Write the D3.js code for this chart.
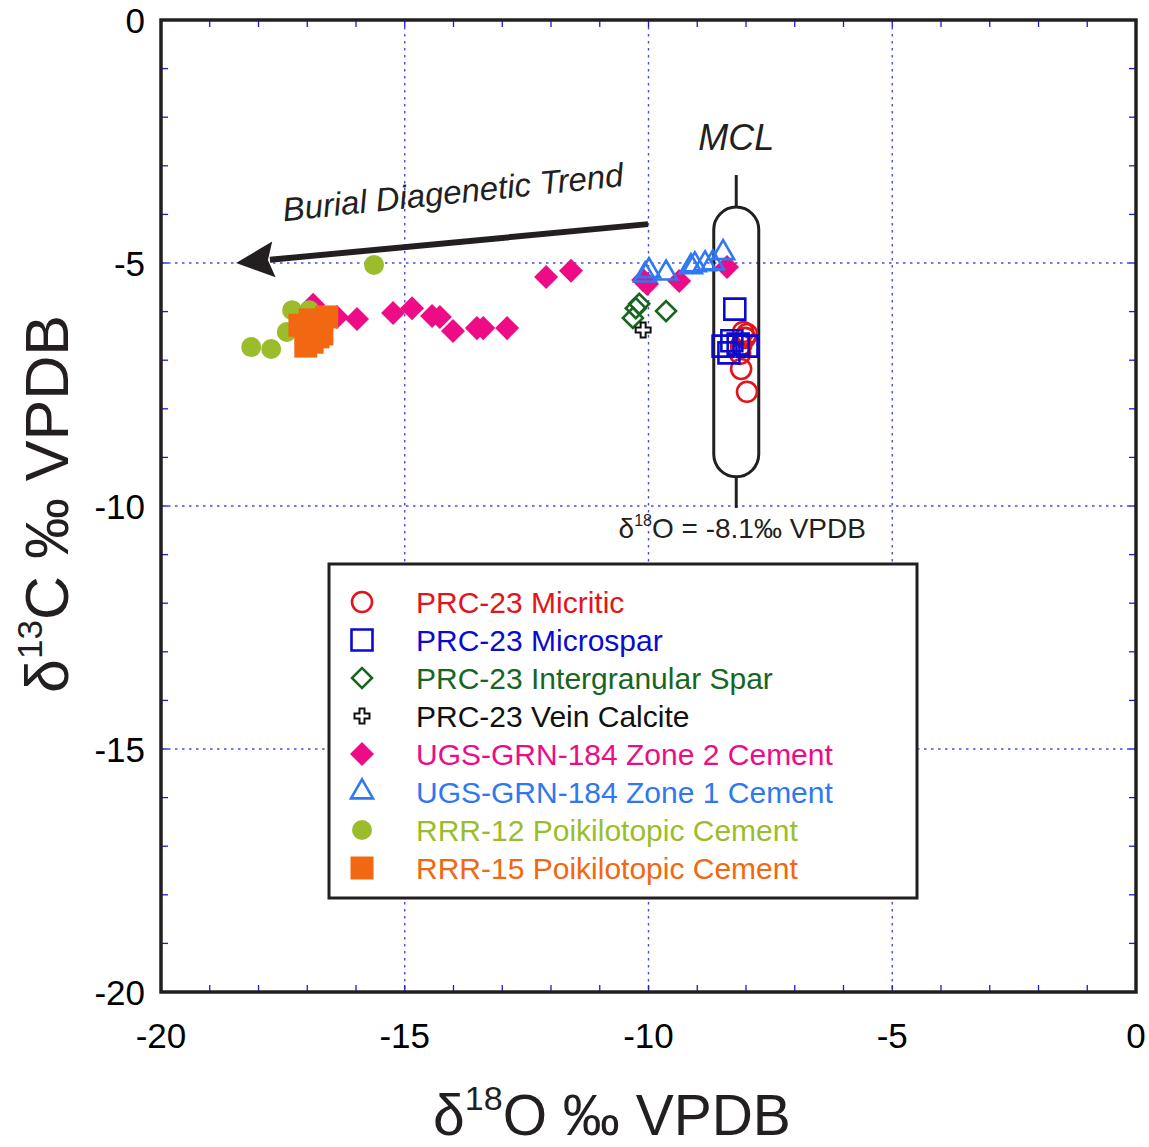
<!DOCTYPE html>
<html>
<head>
<meta charset="utf-8">
<script src="https://cdn.jsdelivr.net/npm/d3@7"></script>
<style>
  body { margin: 0; background: #fff; }
  svg text { font-family: "Liberation Sans", Arial, sans-serif; }
</style>
</head>
<body>
<div id="chart"></div>
<script>
// data: [d18O, d13C]
var micritic = [[-8.06, -6.42], [-7.98, -6.46], [-8.02, -6.54], [-8.10, -6.69], [-8.12, -6.87], [-8.10, -7.18], [-7.98, -7.65]];
var microspar = [[-8.23, -5.95], [-8.29, -6.60], [-8.47, -6.71], [-8.35, -6.85], [-7.98, -6.71], [-8.16, -6.67]];
var intergranular = [[-10.19, -5.84], [-10.26, -5.93], [-10.32, -6.13], [-9.64, -5.99]];
var vein = [[-10.11, -6.38]];
var zone2 = [[-16.88, -5.86], [-16.39, -6.11], [-15.98, -6.15], [-15.24, -6.03], [-14.85, -5.93], [-14.44, -6.09],
  [-14.28, -6.11], [-14.01, -6.40], [-13.52, -6.34], [-13.39, -6.34], [-12.90, -6.34], [-12.10, -5.29],
  [-11.59, -5.16], [-10.11, -5.35], [-10.03, -5.43], [-9.37, -5.37], [-8.39, -5.08]];
var zone1 = [[-10.07, -5.25], [-9.99, -5.16], [-9.64, -5.21], [-9.13, -5.08], [-9.05, -5.04], [-8.84, -5.02], [-8.68, -5.00], [-8.47, -4.79]];
var rrr12 = [[-15.63, -5.04], [-18.15, -6.73], [-17.74, -6.77], [-17.31, -5.97], [-16.96, -5.97], [-17.42, -6.42]];
var rrr15 = [[-17.15, -6.28], [-16.60, -6.11], [-16.70, -6.46], [-16.78, -6.52], [-16.90, -6.63], [-17.03, -6.71], [-16.94, -6.17]];

var seriesNames = ["PRC-23 Micritic", "PRC-23 Microspar", "PRC-23 Intergranular Spar", "PRC-23 Vein Calcite",
  "UGS-GRN-184 Zone 2 Cement", "UGS-GRN-184 Zone 1 Cement", "RRR-12 Poikilotopic Cement", "RRR-15 Poikilotopic Cement"];
var seriesData = [micritic, microspar, intergranular, vein, zone2, zone1, rrr12, rrr15];

var xTicks = [-20, -15, -10, -5, 0];
var yTicks = [0, -5, -10, -15, -20];
var gridValues = [-15, -10, -5];

// MCL capsule (d18O centre, d13C top/bottom of body and whiskers)
var mclX = -8.2;
var mclBody = [-3.85, -9.40];
var mclWhisker = [-3.19, -10.04];
// burial trend arrow, from -> to
var trendArrow = [[-10.01, -4.20], [-18.46, -5.0]];

// styles per series (same order as seriesNames)
var styles = [
  {type: "circle", color: "#e3141b", fill: false, size: 10},
  {type: "square", color: "#0b0bd0", fill: false, size: 21},
  {type: "diamond", color: "#17661f", fill: false, size: 20},
  {type: "cross", color: "#111", fill: false, size: 15},
  {type: "diamond", color: "#ee0c86", fill: true, size: 24},
  {type: "triangle", color: "#2f78f2", fill: false, size: 22},
  {type: "circle", color: "#9bbd2c", fill: true, size: 10},
  {type: "square", color: "#f26711", fill: true, size: 23}
];
var drawOrder = [4, 0, 1, 2, 3, 5, 6, 7];

var W = 1149, H = 1147;
var margin = {top: 20, right: 13, bottom: 155, left: 161},
  width = W - margin.left - margin.right,
  height = H - margin.top - margin.bottom;

var x = d3.scaleLinear().domain([-20, 0]).range([0, width]);
var y = d3.scaleLinear().domain([-20, 0]).range([height, 0]);

var svg = d3.select("#chart").append("svg")
  .attr("width", W).attr("height", H);
var g = svg.append("g")
  .attr("transform", `translate(${margin.left}, ${margin.top})`);

// dotted grid
var gridColor = "#4a4ae8";
g.selectAll("line.gx").data(gridValues).enter().append("line")
  .attr("x1", d => x(d)).attr("x2", d => x(d))
  .attr("y1", 0).attr("y2", height)
  .attr("stroke", gridColor).attr("stroke-width", 1.4).attr("stroke-dasharray", "2.5,4.5");
g.selectAll("line.gy").data(gridValues).enter().append("line")
  .attr("y1", d => y(d)).attr("y2", d => y(d))
  .attr("x1", 0).attr("x2", width)
  .attr("stroke", gridColor).attr("stroke-width", 1.4).attr("stroke-dasharray", "2.5,4.5");

// minor ticks inside on all four sides
var minor = d3.range(-19, 0, 1);
var tk = 7, tickColor = "#1a1ae6";
[["x", 0, 1], ["x", height, -1], ["y", 0, 1], ["y", width, -1]].forEach(function(s) {
  g.selectAll(null).data(minor).enter().append("line")
    .attr("x1", d => s[0] == "x" ? x(d) : s[1])
    .attr("x2", d => s[0] == "x" ? x(d) : s[1] + s[2] * tk)
    .attr("y1", d => s[0] == "x" ? s[1] : y(d))
    .attr("y2", d => s[0] == "x" ? s[1] + s[2] * tk : y(d))
    .attr("stroke", tickColor).attr("stroke-width", 1.3);
});

// tick labels
g.selectAll("text.xl").data(xTicks).enter().append("text")
  .attr("x", d => x(d)).attr("y", height + 56)
  .attr("text-anchor", "middle").attr("font-size", 35)
  .text(d => d);
g.selectAll("text.yl").data(yTicks).enter().append("text")
  .attr("x", -16).attr("y", d => y(d)).attr("dy", "0.36em")
  .attr("text-anchor", "end").attr("font-size", 35)
  .text(d => d);

// MCL capsule
var capW = 45;
g.append("line")
  .attr("x1", x(mclX)).attr("x2", x(mclX))
  .attr("y1", y(mclWhisker[0])).attr("y2", y(mclBody[0]))
  .attr("stroke", "#231f20").attr("stroke-width", 3);
g.append("line")
  .attr("x1", x(mclX)).attr("x2", x(mclX))
  .attr("y1", y(mclBody[1])).attr("y2", y(mclWhisker[1]))
  .attr("stroke", "#231f20").attr("stroke-width", 3);
g.append("rect")
  .attr("x", x(mclX) - capW / 2).attr("width", capW)
  .attr("y", y(mclBody[0])).attr("height", y(mclBody[1]) - y(mclBody[0]))
  .attr("rx", capW / 2).attr("ry", capW / 2)
  .attr("fill", "none").attr("stroke", "#231f20").attr("stroke-width", 3);
g.append("text")
  .attr("x", x(mclX)).attr("y", y(mclWhisker[0]) - 25)
  .attr("text-anchor", "middle").attr("font-size", 36).attr("font-style", "italic")
  .attr("fill", "#231f20").text("MCL");
var mclLab = g.append("text")
  .attr("x", x(mclX) + 6).attr("y", y(mclWhisker[1]) + 30)
  .attr("text-anchor", "middle").attr("font-size", 28).attr("fill", "#231f20");
mclLab.append("tspan").text("δ");
mclLab.append("tspan").attr("font-size", 16).attr("dy", -12).text("18");
mclLab.append("tspan").attr("dy", 12).text("O = -8.1‰ VPDB");

// burial trend arrow
var ax0 = x(trendArrow[0][0]), ay0 = y(trendArrow[0][1]),
  ax1 = x(trendArrow[1][0]), ay1 = y(trendArrow[1][1]);
var ang = Math.atan2(ay1 - ay0, ax1 - ax0);
var headL = 38, headW = 18;
var bx = ax1 - headL * Math.cos(ang), by = ay1 - headL * Math.sin(ang);
g.append("line")
  .attr("x1", ax0).attr("y1", ay0).attr("x2", bx + 4 * Math.cos(ang)).attr("y2", by + 4 * Math.sin(ang))
  .attr("stroke", "#231f20").attr("stroke-width", 6);
g.append("path")
  .attr("d", d3.line()([
    [ax1, ay1],
    [bx + headW * Math.sin(ang), by - headW * Math.cos(ang)],
    [bx + 6 * Math.cos(ang), by + 6 * Math.sin(ang)],
    [bx - headW * Math.sin(ang), by + headW * Math.cos(ang)]
  ]) + "Z")
  .attr("fill", "#231f20");
g.append("text")
  .attr("transform", `translate(${(ax0 + ax1) / 2 + 12}, ${(ay0 + ay1) / 2 - 40}) rotate(${ang * 180 / Math.PI + 180 - 0.5})`)
  .attr("text-anchor", "middle").attr("font-size", 33).attr("font-style", "italic")
  .attr("fill", "#231f20").text("Burial Diagenetic Trend");

// symbol paths
function symbolPath(st) {
  var s = st.size;
  if (st.type == "circle") return d3.symbol(d3.symbolCircle, Math.PI * s * s)();
  if (st.type == "square") return d3.symbol(d3.symbolSquare, s * s)();
  if (st.type == "diamond") { var a = s / Math.SQRT2; return d3.symbol(d3.symbolSquare, a * a)(); }
  if (st.type == "triangle") { return d3.symbol(d3.symbolTriangle, s * s * Math.sqrt(3) / 4)(); }
  if (st.type == "cross") { var r = s / 6; return d3.symbol(d3.symbolCross, 20 * r * r)(); }
}
function styleMark(sel, st) {
  sel.attr("d", symbolPath(st))
    .attr("fill", st.fill ? st.color : (st.type == "cross" ? "#fff" : "none"))
    .attr("stroke", st.fill ? "none" : st.color)
    .attr("stroke-width", st.type == "cross" ? 2 : 2.6);
}
function rot(st) { return st.type == "diamond" ? " rotate(45)" : ""; }

drawOrder.forEach(function(i) {
  var st = styles[i];
  g.selectAll(null).data(seriesData[i]).enter().append("path")
    .attr("transform", d => `translate(${x(d[0])}, ${y(d[1])})` + rot(st))
    .call(styleMark, st);
});

// frame
g.append("rect").attr("x", 0).attr("y", 0).attr("width", width).attr("height", height)
  .attr("fill", "none").attr("stroke", "#231f20").attr("stroke-width", 3.5);

// legend
var lg = svg.append("g").attr("transform", "translate(329, 564)");
lg.append("rect").attr("width", 588).attr("height", 334)
  .attr("fill", "#fff").attr("stroke", "#231f20").attr("stroke-width", 3);
seriesNames.forEach(function(name, i) {
  var st = styles[i], yy = 38 + i * 38;
  lg.append("path").attr("transform", `translate(33, ${yy})` + rot(st)).call(styleMark, st);
  lg.append("text").attr("x", 87).attr("y", yy).attr("dy", "0.36em")
    .attr("font-size", 30).attr("fill", st.color).text(name);
});

// axis titles
var xt = svg.append("text")
  .attr("x", 612).attr("y", 1135)
  .attr("text-anchor", "middle").attr("font-size", 57).attr("fill", "#231f20");
xt.append("tspan").text("δ");
xt.append("tspan").attr("font-size", 34).attr("dy", -25).text("18");
xt.append("tspan").attr("dy", 25).text("O ‰ VPDB");

var yt = svg.append("text")
  .attr("transform", `translate(68, ${margin.top + height / 2 - 2}) rotate(-90)`)
  .attr("text-anchor", "middle").attr("font-size", 61).attr("fill", "#231f20");
yt.append("tspan").text("δ");
yt.append("tspan").attr("font-size", 35).attr("dy", -26).text("13");
yt.append("tspan").attr("dy", 26).text("C ‰ VPDB");
</script>
</body>
</html>
